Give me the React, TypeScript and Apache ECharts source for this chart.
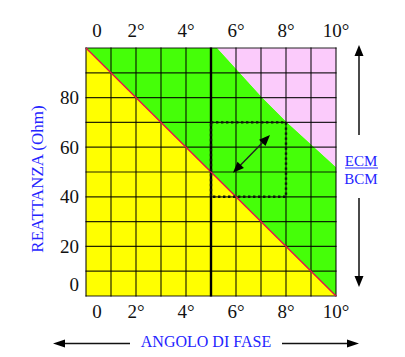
import React, { useEffect, useRef } from "react";
import * as echarts from "echarts";

// ---- data ----
const xGridValues = [0, 1, 2, 3, 4, 5, 6, 7, 8, 9, 10];
const yGridValues = [0, 10, 20, 30, 40, 50, 60, 70, 80, 90, 100];
const emphasizedX = [5];
const xLabelValues = [0, 2, 4, 6, 8, 10];
const yLabelValues = [0, 20, 40, 60, 80];
const yellowRegion = [[0, 0], [0, 100], [10, 0]];
const greenRegion = [[0, 100], [5.25, 100], [7.05, 80], [8.05, 70], [10, 52], [10, 0]];
const pinkRegion = [[5.25, 100], [10, 100], [10, 52], [8.05, 70], [7.05, 80]];
const redLine = [[0, 100], [10, 0]];
const dottedBox = [[5, 40], [8, 70]];
const doubleArrow = [[5.88, 49.7], [7.36, 64.9]];

const SERIF = '"Liberation Serif", "Times New Roman", serif';
const BLUE = "#2424ff";
const INK = "#111";

function polygonSeries(points: number[][], fill: string, z: number) {
  return {
    type: "custom",
    coordinateSystem: "cartesian2d",
    silent: true,
    z,
    data: [points[0]],
    renderItem: (_p: any, api: any) => ({
      type: "polygon",
      shape: { points: points.map((pt) => api.coord(pt)) },
      style: { fill, stroke: "none" },
    }),
  };
}

export default function App() {
  const ref = useRef<HTMLDivElement>(null);
  useEffect(() => {
    if (!ref.current) return;
    const chart = echarts.init(ref.current, undefined, { renderer: "svg" });
    const xMin = xGridValues[0];
    const xMax = xGridValues[xGridValues.length - 1];
    const yMin = yGridValues[0];
    const yMax = yGridValues[yGridValues.length - 1];

    const xLabel = (margin: number) => ({
      margin,
      fontSize: 19,
      fontFamily: SERIF,
      color: INK,
      showMinLabel: true,
      showMaxLabel: true,
      formatter: (v: number) =>
        xLabelValues.includes(v) ? (v === 0 ? "{z|0}" : v + "°") : "",
      rich: { z: { padding: [0, 0, 0, 22], fontSize: 19, fontFamily: SERIF, color: INK } },
    });

    const option: any = {
      animation: false,
      grid: { left: 86, top: 48, width: 250, height: 248, containLabel: false },
      xAxis: [
        {
          type: "value", min: xMin, max: xMax, interval: 2, position: "bottom",
          axisLine: { show: false }, axisTick: { show: false }, splitLine: { show: false },
          axisLabel: xLabel(6),
        },
        {
          type: "value", min: xMin, max: xMax, interval: 2, position: "top",
          axisLine: { show: false }, axisTick: { show: false }, splitLine: { show: false },
          axisLabel: xLabel(8),
        },
      ],
      yAxis: {
        type: "value", min: yMin, max: yMax, interval: 20,
        axisLine: { show: false }, axisTick: { show: false }, splitLine: { show: false },
        axisLabel: {
          margin: 7, fontSize: 19, fontFamily: SERIF, color: INK,
          showMinLabel: true, showMaxLabel: true,
          formatter: (v: number) =>
            yLabelValues.includes(v) ? (v === 0 ? "{z|0}" : String(v)) : "",
          rich: { z: { padding: [0, 0, 24, 0], fontSize: 19, fontFamily: SERIF, color: INK } },
        },
      },
      series: [
        polygonSeries(greenRegion, "#45ff08", 1),
        polygonSeries(yellowRegion, "#ffff00", 2),
        polygonSeries(pinkRegion, "#fbcbfb", 3),
        {
          type: "custom", coordinateSystem: "cartesian2d", silent: true, z: 5,
          data: xGridValues.map((v) => [v, yMin]),
          renderItem: (params: any, api: any) => {
            const v = xGridValues[params.dataIndex];
            const a = api.coord([v, yMin]);
            const b = api.coord([v, yMax]);
            return {
              type: "line",
              shape: { x1: a[0], y1: a[1] + 0.5, x2: b[0], y2: b[1] - 0.5 },
              style: {
                stroke: emphasizedX.includes(v) ? "#000" : "rgba(0,0,0,0.85)",
                lineWidth: emphasizedX.includes(v) ? 2.4 : 1.2,
              },
            };
          },
        },
        {
          type: "custom", coordinateSystem: "cartesian2d", silent: true, z: 5,
          data: yGridValues.map((v) => [xMin, v]),
          renderItem: (params: any, api: any) => {
            const v = yGridValues[params.dataIndex];
            const a = api.coord([xMin, v]);
            const b = api.coord([xMax, v]);
            return {
              type: "line",
              shape: { x1: a[0] - 0.5, y1: a[1], x2: b[0] + 0.5, y2: b[1] },
              style: { stroke: "rgba(0,0,0,0.85)", lineWidth: 1.2 },
            };
          },
        },
        {
          type: "line", z: 6, silent: true, showSymbol: false, symbol: "none",
          data: redLine,
          lineStyle: { color: "#e4104a", width: 1.4 },
        },
        {
          type: "custom", coordinateSystem: "cartesian2d", silent: true, z: 7,
          data: [dottedBox[0]],
          renderItem: (_p: any, api: any) => {
            const a = api.coord(dottedBox[0]);
            const b = api.coord(dottedBox[1]);
            return {
              type: "rect",
              shape: { x: a[0], y: b[1], width: b[0] - a[0], height: a[1] - b[1] },
              style: { fill: "none", stroke: INK, lineWidth: 2.4, lineDash: [2.4, 2.6] },
            };
          },
        },
        {
          type: "custom", coordinateSystem: "cartesian2d", silent: true, z: 8,
          data: [doubleArrow[0]],
          renderItem: (_p: any, api: any) => {
            const p1 = api.coord(doubleArrow[0]);
            const p2 = api.coord(doubleArrow[1]);
            const dx = p2[0] - p1[0];
            const dy = p2[1] - p1[1];
            const len = Math.sqrt(dx * dx + dy * dy);
            const ux = dx / len, uy = dy / len;
            const nx = -uy, ny = ux;
            const hl = 11, hw = 4.5;
            const head = (tip: number[], dir: number) => [
              tip,
              [tip[0] - dir * ux * hl + nx * hw, tip[1] - dir * uy * hl + ny * hw],
              [tip[0] - dir * ux * hl - nx * hw, tip[1] - dir * uy * hl - ny * hw],
            ];
            return {
              type: "group",
              children: [
                {
                  type: "line",
                  shape: { x1: p1[0] + ux * 6, y1: p1[1] + uy * 6, x2: p2[0] - ux * 6, y2: p2[1] - uy * 6 },
                  style: { stroke: "#222", lineWidth: 1.4 },
                },
                { type: "polygon", shape: { points: head(p2, 1) }, style: { fill: "#000" } },
                { type: "polygon", shape: { points: head(p1, -1) }, style: { fill: "#000" } },
              ],
            };
          },
        },
      ],
      graphic: [
        {
          type: "text", x: 37, y: 179, rotation: Math.PI / 2,
          style: { text: "REATTANZA (Ohm)", fill: BLUE, font: `17px ${SERIF}`, textAlign: "center", textVerticalAlign: "middle" },
        },
        {
          type: "text", x: 206, y: 341,
          style: { text: "ANGOLO DI FASE", fill: BLUE, font: `16px ${SERIF}`, textAlign: "center", textVerticalAlign: "middle" },
        },
        { type: "line", shape: { x1: 62, y1: 343.5, x2: 130, y2: 343.5 }, style: { stroke: INK, lineWidth: 1.5 } },
        { type: "polygon", shape: { points: [[53, 343.5], [65, 339.5], [65, 347.5]] }, style: { fill: "#000" } },
        { type: "line", shape: { x1: 282, y1: 343.5, x2: 350, y2: 343.5 }, style: { stroke: INK, lineWidth: 1.5 } },
        { type: "polygon", shape: { points: [[359, 343.5], [347, 339.5], [347, 347.5]] }, style: { fill: "#000" } },
        { type: "line", shape: { x1: 359, y1: 55, x2: 359, y2: 135 }, style: { stroke: "#4a4a4a", lineWidth: 2 } },
        { type: "polygon", shape: { points: [[359, 45], [354.5, 56], [363.5, 56]] }, style: { fill: "#000" } },
        { type: "line", shape: { x1: 359, y1: 198, x2: 359, y2: 277 }, style: { stroke: "#4a4a4a", lineWidth: 2 } },
        { type: "polygon", shape: { points: [[359, 287], [354.5, 276], [363.5, 276]] }, style: { fill: "#000" } },
        {
          type: "text", x: 361, y: 161,
          style: { text: "ECM", fill: BLUE, font: `15px ${SERIF}`, textAlign: "center", textVerticalAlign: "middle" },
        },
        { type: "line", shape: { x1: 345, y1: 168, x2: 378, y2: 168 }, style: { stroke: "#7070ff", lineWidth: 1.5 } },
        {
          type: "text", x: 361, y: 179,
          style: { text: "BCM", fill: BLUE, font: `15px ${SERIF}`, textAlign: "center", textVerticalAlign: "middle" },
        },
      ],
    };
    chart.setOption(option);
    return () => chart.dispose();
  }, []);
  return (
    <div
      ref={ref}
      style={{ position: "fixed", left: 0, top: 0, width: 405, height: 357, background: "#fff" }}
    />
  );
}
